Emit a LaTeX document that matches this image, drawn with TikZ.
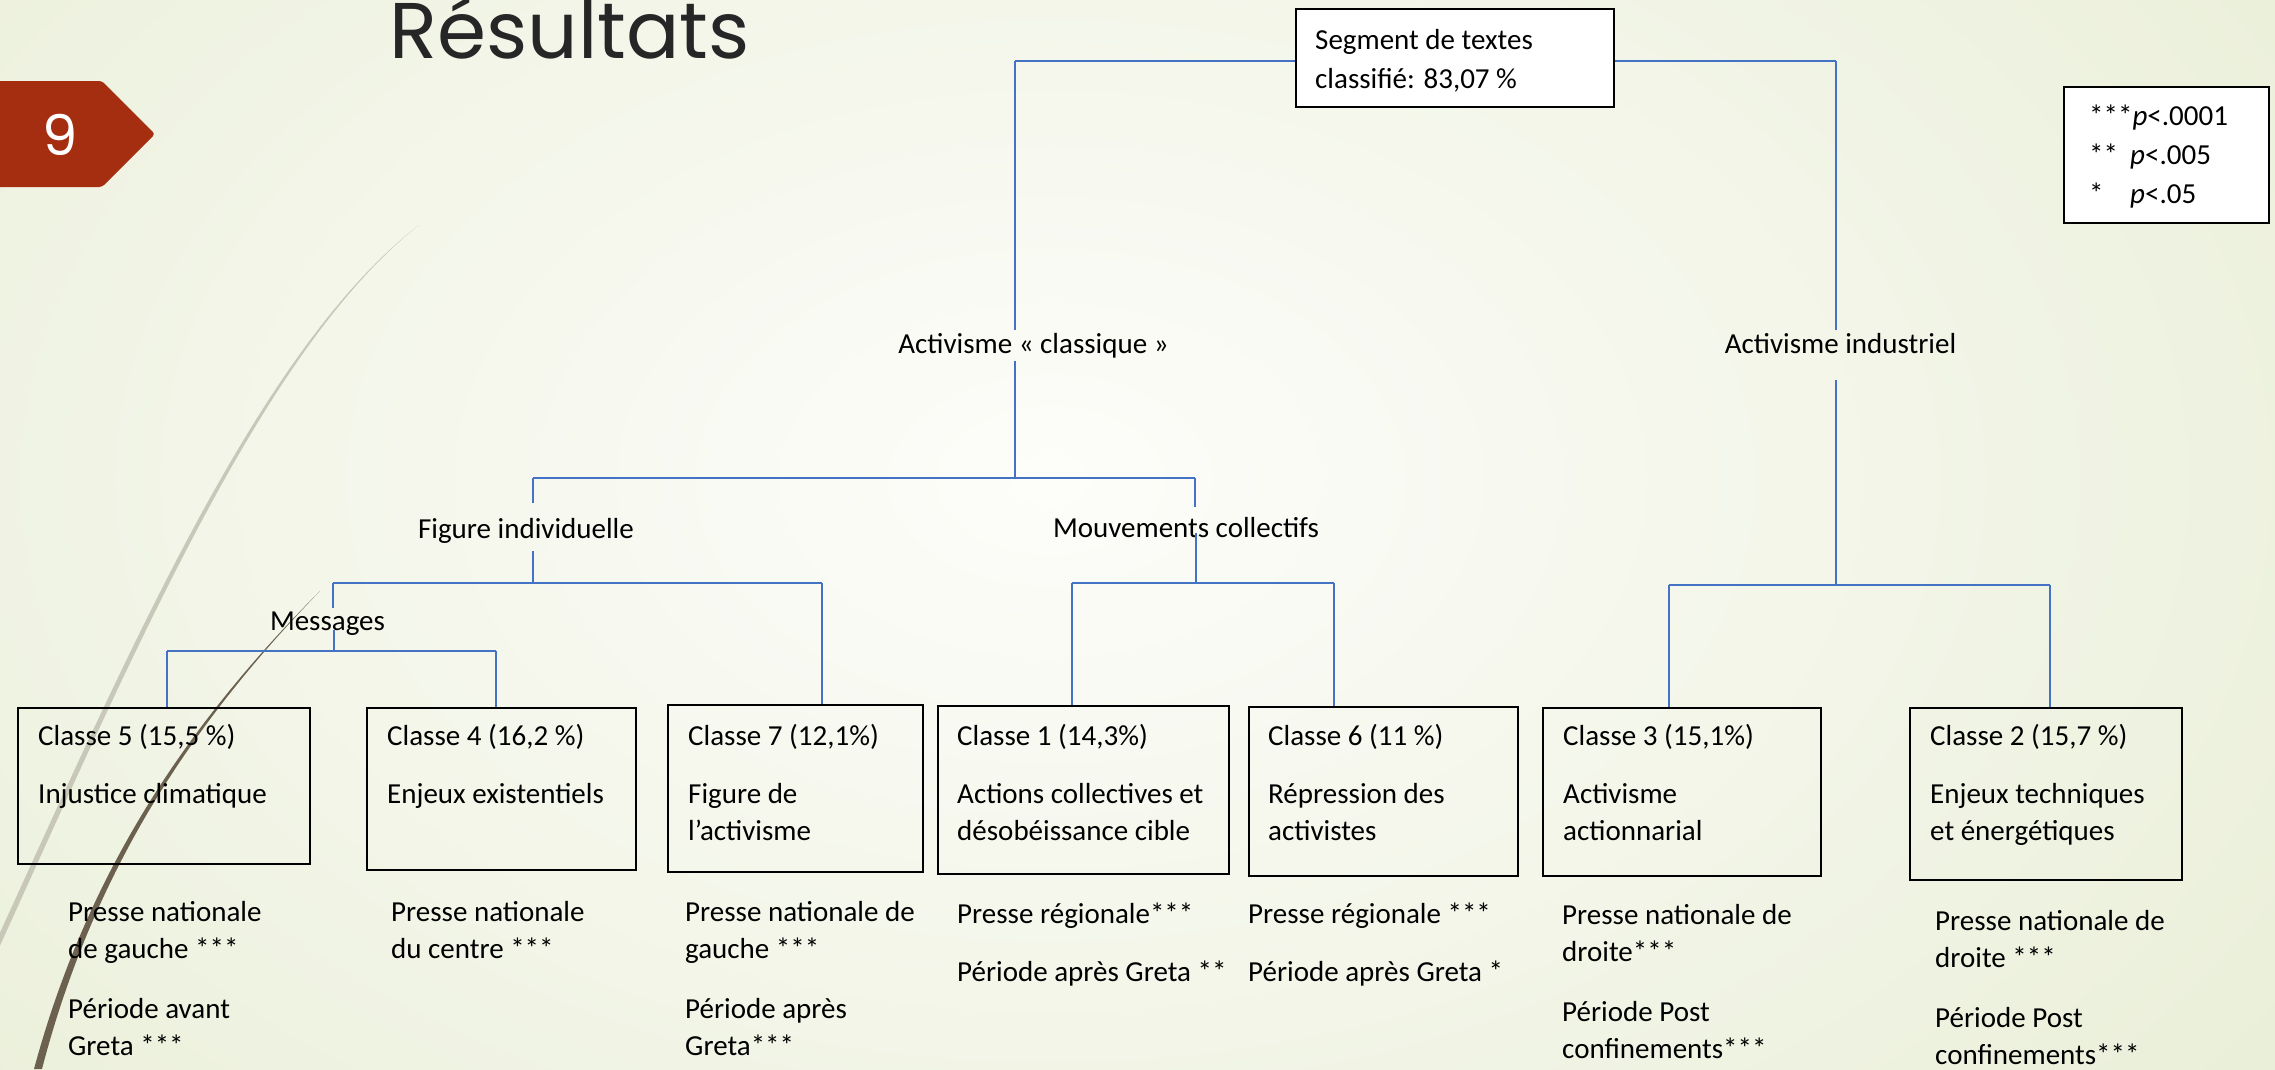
\documentclass[tikz,border=0pt]{standalone}
\usepackage{fontspec}
\setmainfont{Carlito}
\newfontfamily\titlefont{Poppins}
\definecolor{bggreen}{RGB}{220,229,193}
\definecolor{bgwhite}{RGB}{253,253,250}
\definecolor{connblue}{RGB}{68,114,196}
\definecolor{chevred}{RGB}{166,46,16}
\definecolor{wispdark}{RGB}{107,97,78}
\definecolor{wisplight}{RGB}{200,200,184}
\definecolor{titlegray}{RGB}{38,38,38}
\begin{document}
\begin{tikzpicture}[x=1pt,y=-1pt,
  conn/.style={draw=connblue, line width=1.8pt},
  box/.style={draw=black, line width=2pt, inner sep=0pt},
  txt/.style={inner sep=0pt, anchor=base west, align=left, font=\fontsize{29}{37}\selectfont, text=black},
  lbl/.style={inner sep=0pt, anchor=base, font=\fontsize{29}{37}\selectfont, text=black, text height=22pt, text depth=7pt}]
\useasboundingbox (0,0) rectangle (2275,1069);
\clip (0,0) rectangle (2275,1069);
% background
\fill[bggreen] (0,0) rectangle (2275,1069);
\shade[inner color=bgwhite, outer color=bggreen] (1050,480) ellipse [x radius=2600, y radius=1700];
% wisps
\fill[wisplight] (419,225) .. controls (263,345) and (135,637) .. (-2,937) -- (-2,950) .. controls (139,640) and (266,346) .. (419,225) -- cycle;
\fill[wispdark] (320,591) .. controls (190,721) and (88,869) .. (34,1069) -- (42,1069) .. controls (94,869) and (193,722) .. (320,591) -- cycle;
% page number chevron
\fill[chevred, rounded corners=3pt] (-5,81) -- (102,81) -- (155,134) -- (102,187) -- (-5,187) -- cycle;
\node[font=\titlefont\fontsize{56}{56}\selectfont, text=white, inner sep=0pt] (pnum) at (60,135) {9};
% title
\node[font=\titlefont\fontsize{79}{79}\selectfont, text=titlegray, anchor=base west, inner sep=0pt] (title) at (389,58) {Résultats};

% label nodes
\node[lbl] (classique) at (1033.5,353) {Activisme « classique »};
\node[lbl] (industriel) at (1840.5,353) {Activisme industriel};
\node[lbl] (figind) at (526,538) {Figure individuelle};
\node[lbl] (mouv) at (1186,537) {Mouvements collectifs};
\node[lbl] (messages) at (327.5,630) {Messages};

% class boxes
\node[box, minimum width=292pt, minimum height=156pt] (c5) at (164,786) {};
\node[box, minimum width=269pt, minimum height=162pt] (c4) at (501.5,789) {};
\node[box, minimum width=255pt, minimum height=167pt] (c7) at (795.5,788.5) {};
\node[box, minimum width=291pt, minimum height=168pt] (c1) at (1083.5,790) {};
\node[box, minimum width=269pt, minimum height=169pt] (c6) at (1383.5,791.5) {};
\node[box, minimum width=278pt, minimum height=168pt] (c3) at (1682,792) {};
\node[box, minimum width=272pt, minimum height=172pt] (c2) at (2046,794) {};

% junction coordinates
\coordinate (j0L) at (1015,61);
\coordinate (j0R) at (1836,61);
\coordinate (j1L) at (533,478);
\coordinate (j1R) at (1195,478);
\coordinate (j2L) at (333,583);
\coordinate (j2R) at (822,583);
\coordinate (j3L) at (167,651);
\coordinate (j3R) at (496,651);
\coordinate (j4L) at (1072,583);
\coordinate (j4R) at (1334,583);
\coordinate (j5L) at (1669,585);
\coordinate (j5R) at (2050,585);

% connectors
\draw[conn] (j0L) -- (j0R);
\draw[conn] (j0L) -- (1015,330);
\draw[conn] (1015,361) -- (1015,478);
\draw[conn] (j0R) -- (1836,330);
\draw[conn] (1836,380) -- (1836,585);
\draw[conn] (j1L) -- (j1R);
\draw[conn] (j1L) -- (533,503);
\draw[conn] (j1R) -- (1195,507);
\draw[conn] (533,551) -- (533,583);
\draw[conn] (j2L) -- (j2R);
\draw[conn] (j2R) -- (j2R |- c7.north);
\draw[conn] (j2L) -- (333,608);
\draw[conn] (334,630) -- (334,651);
\draw[conn] (j3L) -- (j3R);
\draw[conn] (j3L) -- (j3L |- c5.north);
\draw[conn] (j3R) -- (j3R |- c4.north);
\draw[conn] (1196,533) -- (1196,583);
\draw[conn] (j4L) -- (j4R);
\draw[conn] (j4L) -- (j4L |- c1.north);
\draw[conn] (j4R) -- (j4R |- c6.north);
\draw[conn] (j5L) -- (j5R);
\draw[conn] (j5L) -- (j5L |- c3.north);
\draw[conn] (j5R) -- (j5R |- c2.north);

% root and legend
\node[box, fill=white, minimum width=318pt, minimum height=98pt] (root) at (1455,57.5) {};
\node[txt, font=\fontsize{29}{39}\selectfont] (roott) at (1315,88) {Segment de textes\\classifié: 83,07 \%};
\node[box, fill=white, minimum width=205pt, minimum height=136pt] (legend) at (2166.5,155) {};
\node[txt, font=\fontsize{29}{39}\selectfont] (legendt) at (2089,203) {***\textit{p}<.0001\\\makebox[41pt][l]{**}\textit{p}<.005\\\makebox[41pt][l]{*}\textit{p}<.05};

% text in boxes (anchored at the baseline of the last line)
\node[txt] (c5t) at (38,803) {Classe 5 (15,5 \%)\\[21pt]Injustice climatique};
\node[txt] (c4t) at (387,803) {Classe 4 (16,2 \%)\\[21pt]Enjeux existentiels};
\node[txt] (c7t) at (688,840) {Classe 7 (12,1\%)\\[21pt]Figure de\\l’activisme};
\node[txt] (c1t) at (957,840) {Classe 1 (14,3\%)\\[21pt]Actions collectives et\\désobéissance cible};
\node[txt] (c6t) at (1268,840) {Classe 6 (11 \%)\\[21pt]Répression des\\activistes};
\node[txt] (c3t) at (1563,840) {Classe 3 (15,1\%)\\[21pt]Activisme\\actionnarial};
\node[txt] (c2t) at (1930,840) {Classe 2 (15,7 \%)\\[21pt]Enjeux techniques\\et énergétiques};

% text below boxes
\node[txt] (c5b) at (68,1055) {Presse nationale\\de gauche ***\\[23pt]Période avant\\Greta ***};
\node[txt] (c4b) at (391,958) {Presse nationale\\du centre ***};
\node[txt] (c7b) at (685,1055) {Presse nationale de\\gauche ***\\[23pt]Période après\\Greta***};
\node[txt] (c1b) at (957,981) {Presse régionale***\\[21pt]Période après Greta **};
\node[txt] (c6b) at (1248,981) {Presse régionale ***\\[21pt]Période après Greta *};
\node[txt] (c3b) at (1562,1058) {Presse nationale de\\droite***\\[23pt]Période Post\\confinements***};
\node[txt] (c2b) at (1935,1064) {Presse nationale de\\droite ***\\[23pt]Période Post\\confinements***};
\end{tikzpicture}
\end{document}
